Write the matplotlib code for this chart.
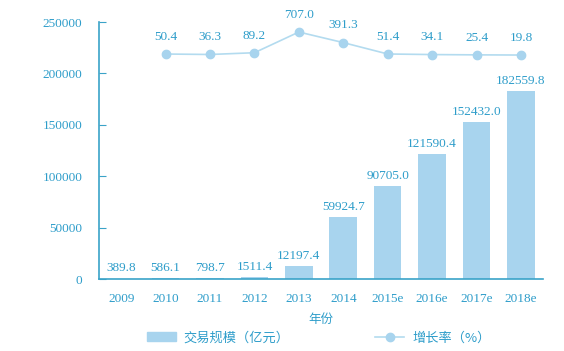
import matplotlib
matplotlib.use("Agg")
import matplotlib.pyplot as plt
from matplotlib.lines import Line2D
from matplotlib.patches import Patch

years = ["2009", "2010", "2011", "2012", "2013", "2014", "2015e", "2016e", "2017e", "2018e"]
scale = [389.8, 586.1, 798.7, 1511.4, 12197.4, 59924.7, 90705.0, 121590.4, 152432.0, 182559.8]
growth_years = years[1:]
growth = [50.4, 36.3, 89.2, 707.0, 391.3, 51.4, 34.1, 25.4, 19.8]

text_c = "#2e9dca"
bar_c = "#a8d4ee"
line_c = "#b3dbef"
spine_c = "#3aa3c8"
serif = ["Liberation Serif", "DejaVu Serif"]
cjk = ["Noto Sans CJK SC", "DejaVu Sans"]

fig = plt.figure(figsize=(5.64, 3.51), dpi=100)
ax = fig.add_axes([0.1755, 0.2051, 0.7875, 0.7322])
x = list(range(len(years)))
ax.bar(x, scale, width=0.62, color=bar_c, zorder=2)
ax.set_xlim(-0.5, 9.5)
ax.set_ylim(0, 250000)
ax.set_yticks([0, 50000, 100000, 150000, 200000, 250000])
ax.set_xticks(x)
ax.set_xticklabels(years)
for lab in ax.get_xticklabels() + ax.get_yticklabels():
    lab.set_fontfamily(serif)
    lab.set_fontsize(9.5)
    lab.set_color(text_c)
ax.tick_params(axis="y", direction="in", length=5, color=spine_c, pad=12)
ax.tick_params(axis="x", length=0, pad=10)
for s in ["top", "right"]:
    ax.spines[s].set_visible(False)
ax.spines["left"].set_color(spine_c)
ax.spines["bottom"].set_color(spine_c)
ax.spines["left"].set_linewidth(1.2)
ax.spines["bottom"].set_linewidth(1.2)

for xi, v in zip(x, scale):
    ax.annotate(f"{v:.1f}", (xi, v), xytext=(0, 3), textcoords="offset points",
                ha="center", va="bottom", fontsize=9.5, color=text_c, family=serif)

ax.set_xlabel("年份", family=cjk, fontsize=9, color=text_c, labelpad=6)

ax2 = ax.twinx()
ax2.set_ylim(-6666, 1006)
ax2.axis("off")
gx = [years.index(g) for g in growth_years]
ax2.plot(gx, growth, color=line_c, lw=1.2, marker="o", ms=6, mfc=bar_c, mec=bar_c, zorder=3)
for xi, v in zip(gx, growth):
    ax2.annotate(f"{v:.1f}", (xi, v), xytext=(0, 8), textcoords="offset points",
                 ha="center", va="bottom", fontsize=9.5, color=text_c, family=serif)

handles = [Patch(color=bar_c), Line2D([0], [0], color=line_c, lw=1.2, marker="o", ms=6, mfc=bar_c, mec=bar_c)]
leg = fig.legend(handles, ["交易规模（亿元）", "增长率（%）"], loc="lower center",
                 bbox_to_anchor=(0.565, -0.015), ncol=2, frameon=False, columnspacing=6.5,
                 handlelength=2.2, handletextpad=0.6, prop={"family": cjk, "size": 9.5})
for t in leg.get_texts():
    t.set_color(text_c)

fig.savefig("out.png", dpi=100)
